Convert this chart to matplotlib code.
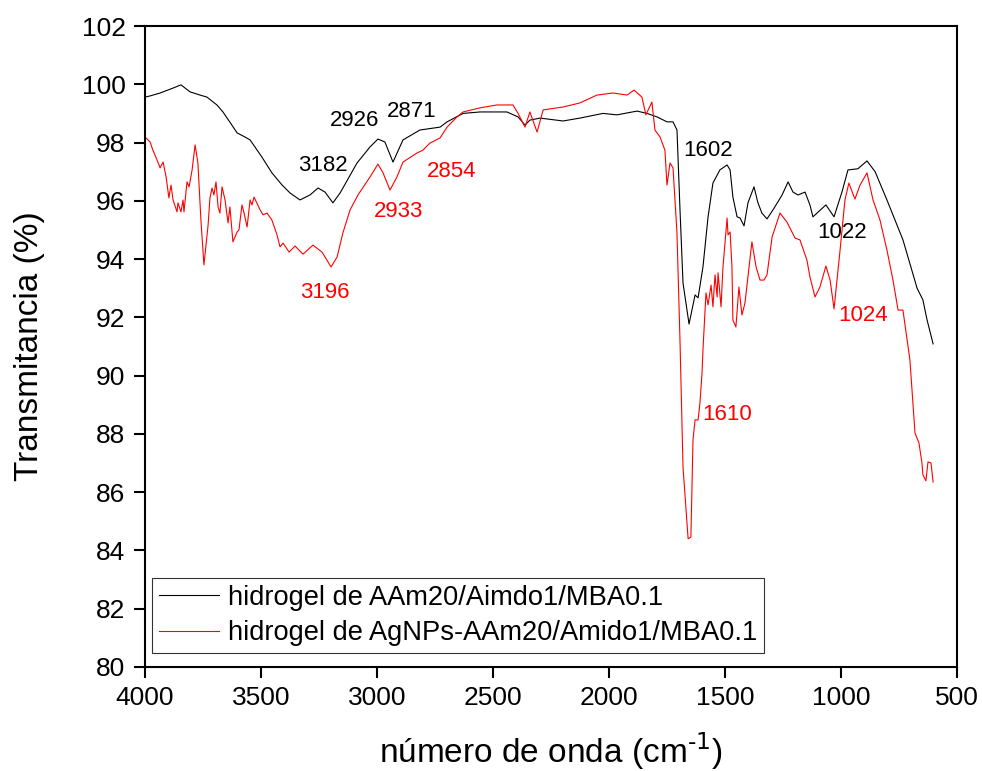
import matplotlib
matplotlib.use("Agg")
import matplotlib.pyplot as plt

plt.rcParams['font.family'] = ['Liberation Sans', 'DejaVu Sans']

# FTIR spectrum: hydrogel AAm20/Amido1/MBA0.1 (wavenumber cm-1, transmittance %)
wn_gel = [4000, 3978, 3935, 3879, 3845, 3806, 3763, 3733, 3690, 3664, 3634, 3603,
          3569, 3547, 3496, 3453, 3409, 3375, 3332, 3289, 3254, 3224, 3190, 3159,
          3086, 3030, 2996, 2966, 2931, 2888, 2815, 2728, 2698, 2629, 2556, 2440,
          2392, 2362, 2341, 2297, 2198, 2125, 2026, 1966, 1879, 1836, 1793, 1750,
          1724, 1707, 1694, 1681, 1655, 1629, 1616, 1595, 1573, 1552, 1522, 1491,
          1478, 1466, 1448, 1435, 1418, 1401, 1375, 1358, 1341, 1319, 1293, 1254,
          1228, 1207, 1185, 1155, 1134, 1121, 1065, 1030, 996, 970, 927, 888, 853,
          802, 733, 672, 647, 629, 603]
t_gel = [99.56, 99.60, 99.70, 99.87, 99.98, 99.74, 99.63, 99.56, 99.29, 99.05, 98.70, 98.33,
         98.19, 98.09, 97.50, 96.96, 96.54, 96.27, 96.03, 96.20, 96.44, 96.30, 95.93, 96.27,
         97.30, 97.85, 98.12, 98.02, 97.33, 98.09, 98.43, 98.53, 98.71, 99.00, 99.05, 99.05,
         98.88, 98.60, 98.77, 98.84, 98.74, 98.84, 99.00, 98.95, 99.08, 99.00, 98.88, 98.71,
         98.71, 98.43, 95.70, 93.18, 91.77, 92.77, 92.67, 93.73, 95.45, 96.61, 97.06, 97.23,
         97.06, 96.13, 95.45, 95.41, 95.14, 95.93, 96.48, 95.93, 95.58, 95.38, 95.69, 96.20,
         96.65, 96.30, 96.20, 96.30, 95.86, 95.45, 95.86, 95.45, 96.30, 97.06, 97.10, 97.37, 97.00,
         96.03, 94.66, 93.00, 92.60, 91.91, 91.09]

# FTIR spectrum: hydrogel AgNPs-AAm20/Amido1/MBA0.1
wn_ag = [4000, 3978, 3966, 3948, 3935, 3922, 3909, 3897, 3888, 3879, 3862, 3858,
         3845, 3836, 3832, 3819, 3810, 3797, 3784, 3772, 3759, 3746, 3728, 3720,
         3711, 3703, 3694, 3685, 3677, 3668, 3655, 3642, 3634, 3621, 3603, 3595,
         3582, 3573, 3560, 3547, 3539, 3530, 3504, 3491, 3474, 3453, 3431, 3418,
         3405, 3379, 3353, 3345, 3319, 3276, 3237, 3198, 3172, 3147, 3116, 3082,
         3030, 2996, 2974, 2944, 2914, 2888, 2828, 2802, 2772, 2728, 2698, 2655,
         2629, 2556, 2483, 2414, 2392, 2362, 2341, 2310, 2284, 2198, 2125, 2052,
         1983, 1922, 1892, 1858, 1841, 1815, 1802, 1780, 1759, 1750, 1737, 1724,
         1707, 1694, 1681, 1659, 1647, 1638, 1629, 1616, 1608, 1599, 1595, 1582,
         1573, 1560, 1552, 1543, 1534, 1530, 1517, 1509, 1491, 1487, 1478, 1470,
         1466, 1453, 1440, 1427, 1414, 1401, 1384, 1366, 1349, 1332, 1319, 1297,
         1263, 1233, 1198, 1177, 1147, 1134, 1112, 1091, 1065, 1047, 1030, 1004,
         983, 966, 940, 918, 888, 862, 832, 802, 776, 754, 733, 703, 694, 681,
         664, 651, 647, 634, 625, 612, 603]
t_ag = [98.19, 98.02, 97.74, 97.40, 97.13, 97.33, 96.82, 96.10, 96.54, 96.03, 95.62, 95.93,
        95.62, 96.03, 95.62, 96.65, 96.48, 97.06, 97.92, 97.30, 95.34, 93.80, 95.17, 96.10,
        96.44, 96.20, 96.65, 95.79, 95.58, 96.48, 96.03, 95.24, 95.79, 94.59, 94.93, 95.00,
        95.86, 95.58, 95.10, 96.03, 95.86, 96.13, 95.69, 95.52, 95.58, 95.34, 94.83, 94.42,
        94.55, 94.24, 94.45, 94.38, 94.17, 94.48, 94.24, 93.73, 94.07, 94.90, 95.69, 96.20,
        96.82, 97.26, 96.96, 96.37, 96.82, 97.33, 97.64, 97.74, 97.98, 98.16, 98.53, 98.88,
        99.05, 99.19, 99.29, 99.29, 99.00, 98.53, 99.05, 98.36, 99.12, 99.22, 99.36, 99.63,
        99.70, 99.63, 99.80, 99.56, 98.95, 99.39, 98.43, 98.19, 97.74, 96.54, 97.30, 97.13,
        94.90, 91.20, 86.86, 84.40, 84.46, 87.79, 88.48, 88.48, 89.06, 90.09, 90.88, 92.84,
        92.43, 93.11, 92.36, 93.46, 92.70, 93.53, 92.36, 93.70, 95.41, 94.83, 94.93, 93.73,
        91.91, 91.67, 93.04, 92.08, 92.49, 93.39, 94.59, 93.73, 93.28, 93.28, 93.46, 94.76,
        95.58, 95.27, 94.72, 94.66, 93.97, 93.39, 92.70, 93.04, 93.76, 93.28, 92.29, 94.31,
        96.03, 96.61, 96.06, 96.54, 96.96, 96.03, 95.34, 94.31, 93.28, 92.25, 92.25, 90.54, 89.50, 88.03,
        87.69, 87.00, 86.60, 86.39, 87.04, 87.00, 86.35]

labels = ["hidrogel de AAm20/Aimdo1/MBA0.1",
          "hidrogel de AgNPs-AAm20/Amido1/MBA0.1"]

# Peak labels: (text, wavenumber, transmittance, colour)
peak_text = ["3182", "2926", "2871", "1602", "1022",
             "3196", "2933", "2854", "1610", "1024"]
peak_x = [3233, 3095, 2849, 1573, 996,
          3224, 2905, 2677, 1491, 905]
peak_y = [97.2, 98.77, 99.08, 97.71, 94.9,
          92.87, 95.65, 97.02, 88.65, 92.08]
peak_c = ["black"] * 5 + ["red"] * 5

x_ticks = [4000, 3500, 3000, 2500, 2000, 1500, 1000, 500]
y_ticks = list(range(80, 103, 2))

fig = plt.figure(figsize=(9.82, 7.71), dpi=100)
ax = fig.add_axes([145 / 982, 1 - 667 / 771, (957 - 145) / 982, (667 - 26) / 771])

ax.plot(wn_gel, t_gel, color="black", lw=0.8, label=labels[0])
ax.plot(wn_ag, t_ag, color="red", lw=0.8, label=labels[1])

for txt, px, py, c in zip(peak_text, peak_x, peak_y, peak_c):
    ax.text(px, py, txt, color=c, fontsize=16, ha="center", va="center")

ax.set_xlim(4000, 500)
ax.set_ylim(80, 102)
ax.set_xticks(x_ticks)
ax.set_yticks(y_ticks)
ax.tick_params(direction="out", length=8, width=1.5, labelsize=19, pad=6)
for s in ax.spines.values():
    s.set_linewidth(1.5)

ax.set_xlabel(r"número de onda (cm$^{\text{-}1}$)", fontsize=24, labelpad=14)
ax.set_ylabel("Transmitancia (%)", fontsize=24, labelpad=26)

leg = ax.legend(loc="lower left", bbox_to_anchor=(0.0086, 0.022), borderaxespad=0,
                fontsize=19.6, frameon=True, fancybox=False, handlelength=2.2,
                handletextpad=0.35, borderpad=0.25, labelspacing=0.35)
leg.get_frame().set_edgecolor("black")
leg.get_frame().set_linewidth(0.8)

fig.savefig("out.png", dpi=100)
